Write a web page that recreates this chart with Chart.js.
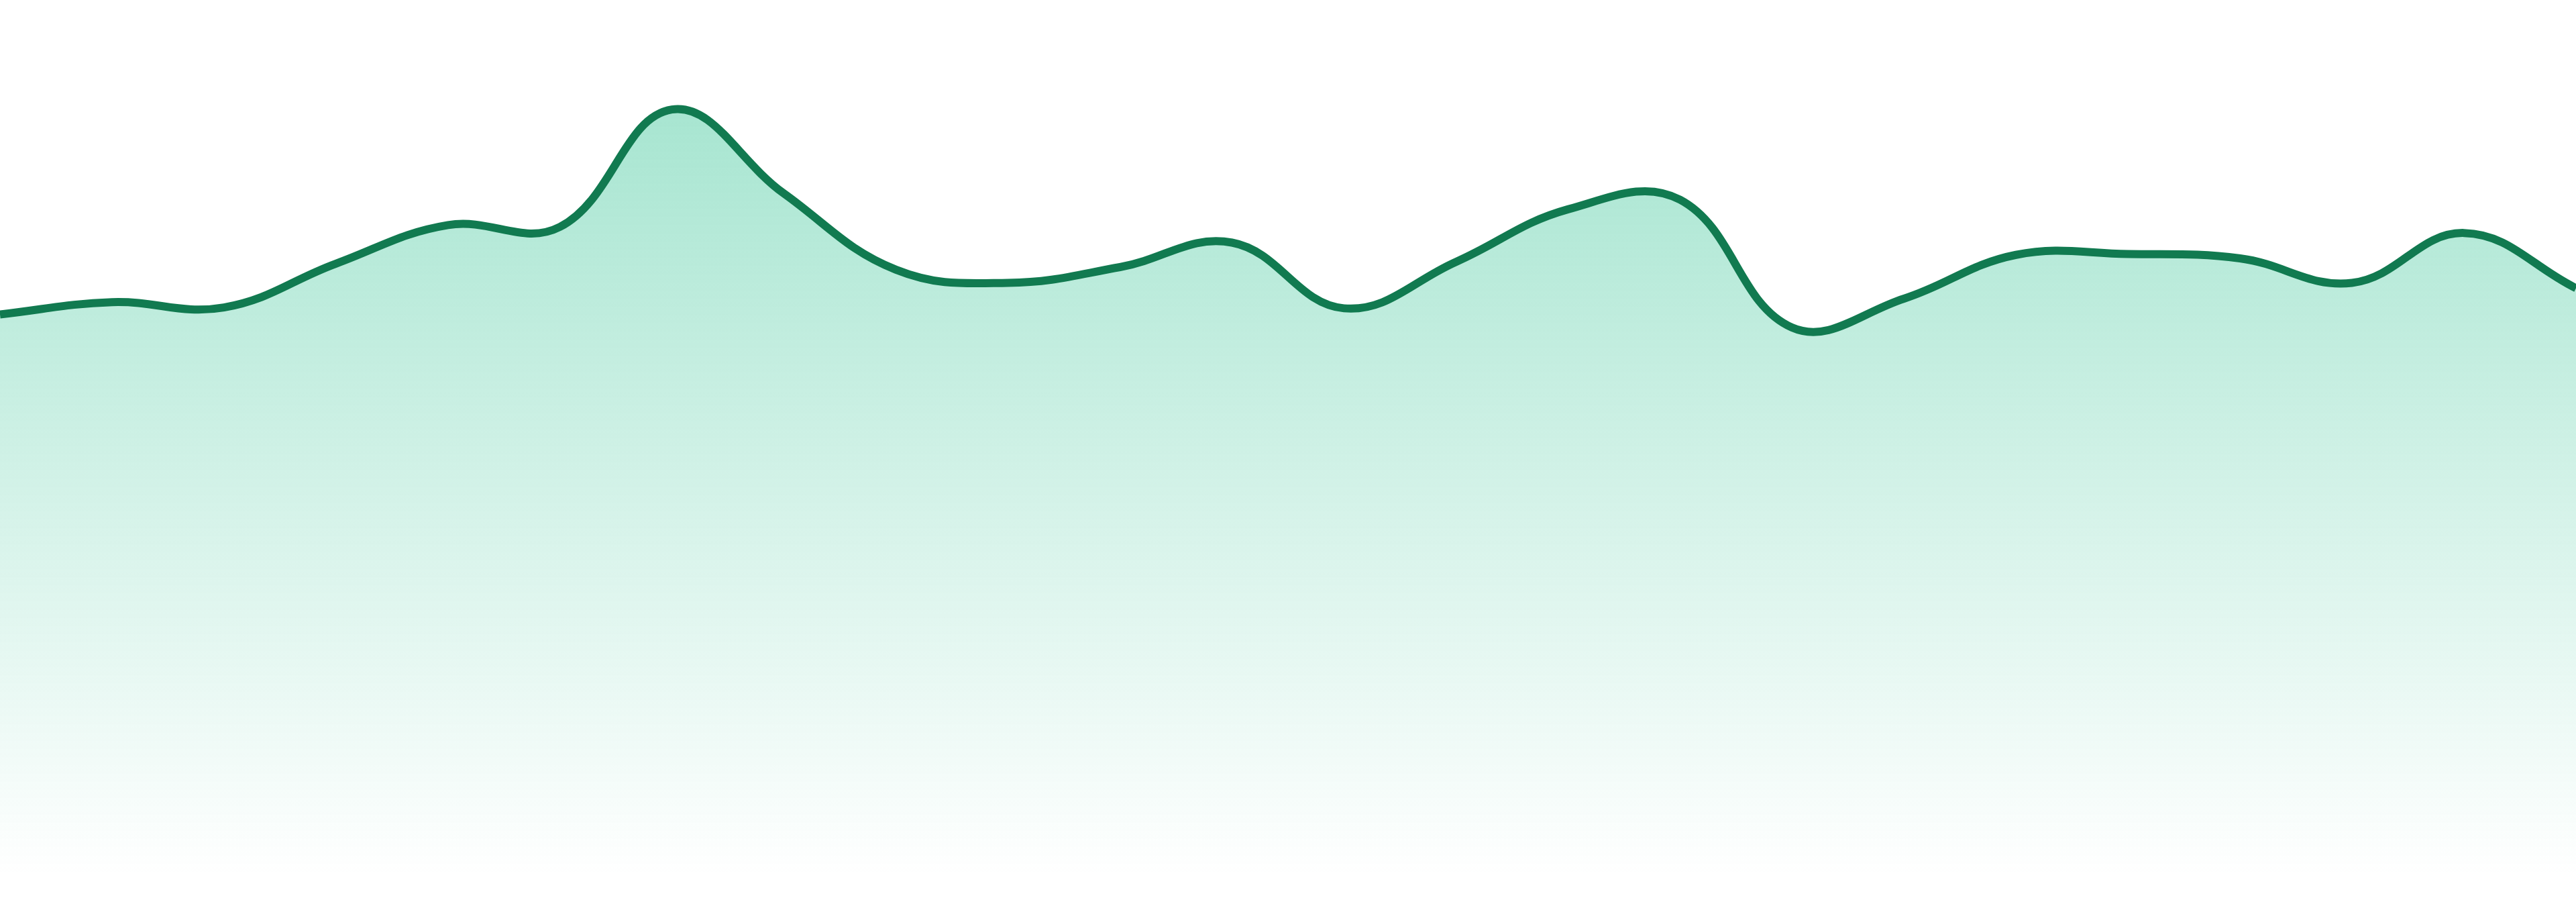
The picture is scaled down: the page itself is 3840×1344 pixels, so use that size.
<!DOCTYPE html>
<html>
<head>
<meta charset="utf-8">
<script src="https://cdn.jsdelivr.net/npm/chart.js@4"></script>
<style>
  html, body { margin: 0; padding: 0; background: #ffffff; overflow: hidden; }
  canvas { display: block; }
</style>
</head>
<body>
<canvas id="chart" width="3840" height="1344"></canvas>
<script>
// One value per step
const labels = ['1', '2', '3', '4', '5', '6', '7', '8', '9', '10', '11', '12',
  '13', '14', '15', '16', '17', '18', '19', '20', '21', '22', '23', '24'];
const values = [64.1, 65.5, 64.9, 69.9, 74.3, 74.1, 87.5, 77.9, 69.2, 67.7, 69.5, 72.3,
  64.8, 70.1, 76.1, 77.2, 62.6, 65.9, 70.9, 71.0, 70.5, 67.7, 73.4, 67.1];
const yMin = 0;
const yMax = 100;

const lineColor = '#117a50';

// Green fill that fades out towards the bottom
function areaGradient(context) {
  const { chart } = context;
  const area = chart.chartArea;
  if (!area) return 'rgba(16, 185, 129, 0.3)';
  const g = chart.ctx.createLinearGradient(0, area.top, 0, area.bottom);
  g.addColorStop(0, 'rgba(16, 185, 129, 0.42)');
  g.addColorStop(1, 'rgba(16, 185, 129, 0.0)');
  return g;
}

const ctx = document.getElementById('chart').getContext('2d');
new Chart(ctx, {
  type: 'line',
  data: {
    labels: labels,
    datasets: [{
      data: values,
      borderColor: lineColor,
      borderWidth: 12,
      backgroundColor: areaGradient,
      fill: 'origin',
      tension: 0.4,
      pointRadius: 0,
      pointHoverRadius: 0
    }]
  },
  options: {
    responsive: false,
    animation: false,
    devicePixelRatio: 1,
    layout: { autoPadding: false, padding: { top: 0, left: 0, right: 0, bottom: 39 } },
    plugins: { legend: { display: false }, tooltip: { enabled: false } },
    scales: {
      x: { display: false },
      y: { display: false, min: yMin, max: yMax }
    }
  }
});
</script>
</body>
</html>
